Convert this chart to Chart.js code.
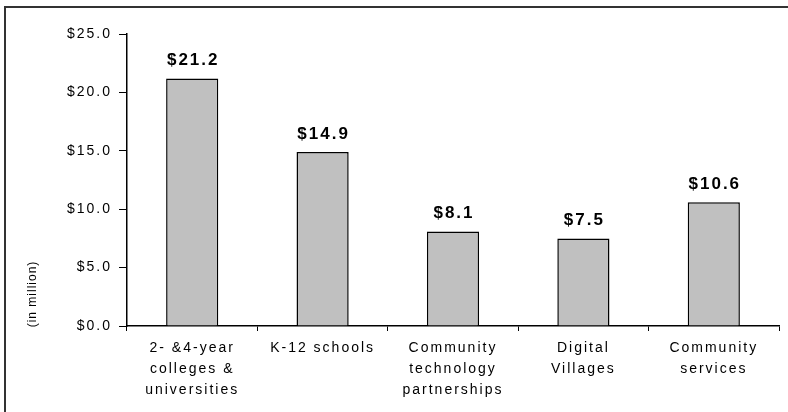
<!DOCTYPE html>
<html>
<head>
<meta charset="utf-8">
<script src="https://cdn.jsdelivr.net/npm/chart.js@4/dist/chart.umd.min.js"></script>
<style>
  html, body { margin: 0; padding: 0; background: #fff; }
  #wrap { width: 788px; height: 412px; }
</style>
</head>
<body>
<div id="wrap"><canvas id="chart" width="788" height="412"></canvas></div>
<script>
const categories = [
    ['2- &4-year', 'colleges &', 'universities'],
    'K-12 schools',
    ['Community', 'technology', 'partnerships'],
    ['Digital', 'Villages'],
    ['Community', 'services']
];
const funding = [21.2, 14.9, 8.1, 7.5, 10.6];
const yTicks = [0, 5, 10, 15, 20, 25];
const axisNote = '(in million)';

// the original uses a wide, spaced-out font
const spacing = {
    id: 'spacing',
    beforeDraw(chart) {
        chart.ctx.letterSpacing = '2px';
    }
};

// frame lines, value labels and the small axis note
const extras = {
    id: 'extras',
    afterDraw(chart) {
        const ctx = chart.ctx;
        ctx.save();
        ctx.strokeStyle = '#333';
        ctx.lineWidth = 2;
        ctx.beginPath();
        ctx.moveTo(5, 412);
        ctx.lineTo(5, 7);
        ctx.lineTo(788, 7);
        ctx.stroke();

        ctx.fillStyle = '#000';
        ctx.letterSpacing = '2px';
        ctx.font = 'bold 17px "Liberation Sans", Arial, sans-serif';
        ctx.textAlign = 'center';
        ctx.textBaseline = 'middle';
        const meta = chart.getDatasetMeta(0);
        meta.data.forEach((bar, i) => {
            ctx.fillText('$' + funding[i].toFixed(1), bar.x + 1, bar.y - 18);
        });

        ctx.letterSpacing = '1px';
        ctx.font = '12px "Liberation Sans", Arial, sans-serif';
        ctx.translate(33, 294);
        ctx.rotate(-Math.PI / 2);
        ctx.fillText(axisNote, 0, 0);
        ctx.restore();
    }
};

new Chart(document.getElementById('chart'), {
    type: 'bar',
    data: {
        labels: categories,
        datasets: [{
            data: funding,
            backgroundColor: '#c0c0c0',
            borderColor: '#000',
            borderWidth: 1.5,
            barPercentage: 0.8,
            categoryPercentage: 0.5
        }]
    },
    options: {
        responsive: false,
        animation: false,
        layout: { padding: { left: 0, top: 34, right: 9, bottom: 0 } },
        plugins: {
            legend: { display: false },
            tooltip: { enabled: false }
        },
        scales: {
            x: {
                afterFit: s => { s.height = 86; },
                border: { color: '#000', width: 1.5 },
                grid: { drawOnChartArea: false, color: '#000', tickLength: 5 },
                ticks: {
                    color: '#000',
                    maxRotation: 0,
                    autoSkip: false,
                    padding: 7,
                    font: { family: '"Liberation Sans", Arial, sans-serif', size: 14, lineHeight: 1.5 }
                }
            },
            y: {
                min: 0,
                max: 25,
                afterFit: s => { s.width = 127; },
                afterBuildTicks: s => { s.ticks = yTicks.map(v => ({ value: v })); },
                border: { color: '#000', width: 1.5 },
                grid: { drawOnChartArea: false, color: '#000', tickLength: 8 },
                ticks: {
                    color: '#000',
                    padding: 7,
                    font: { family: '"Liberation Sans", Arial, sans-serif', size: 14 },
                    callback: v => '$' + v.toFixed(1)
                }
            }
        }
    },
    plugins: [spacing, extras]
});
</script>
</body>
</html>
